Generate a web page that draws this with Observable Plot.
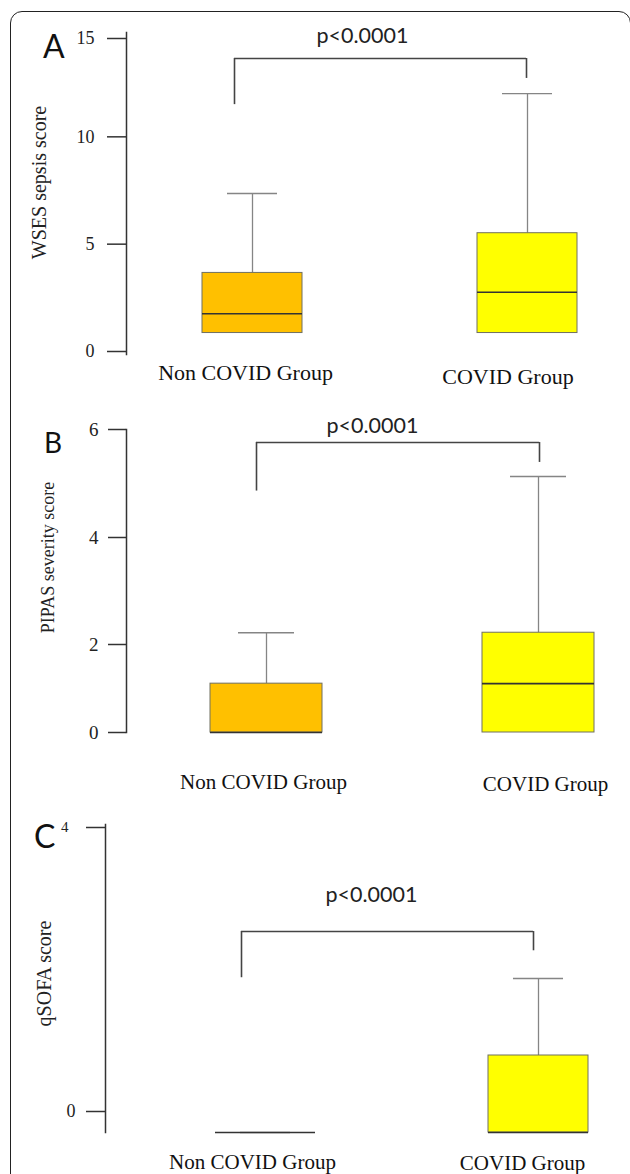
<!DOCTYPE html>
<html><head><meta charset="utf-8">
<script src="https://cdn.jsdelivr.net/npm/d3@7"></script>
<script src="https://cdn.jsdelivr.net/npm/@observablehq/plot@0.6"></script>
<style>
html,body{margin:0;padding:0;background:#fff;}
#wrap{position:relative;width:630px;height:1174px;overflow:hidden;background:#fff;}
.panel{position:absolute;left:0;}
.letter{position:absolute;font-family:Lato,"Open Sans",sans-serif;line-height:1;color:#111;}
#border{position:absolute;left:10px;top:11px;width:621px;height:1300px;border:1.5px solid #222;border-radius:12px;box-sizing:border-box;}
</style></head><body>
<div id="wrap">
  <div id="border"></div>
  <div class="panel" id="pA" style="top:0px"></div>
  <div class="panel" id="pB" style="top:395px"></div>
  <div class="panel" id="pC" style="top:805px"></div>
  <div class="letter" style="left:43px;top:29.6px;font-size:32px">A</div>
  <div class="letter" style="left:44px;top:428px;font-size:28px">B</div>
  <div class="letter" style="left:34px;top:819.6px;font-size:32px">C</div>
</div>
<script>
// ---------- data ----------
const groups = ["Non COVID Group", "COVID Group"];
const fills = ["#FFC000", "#FFFF00"];
const pLabel = "p<0.0001";

// Panel A: WSES sepsis score
const wsesTitle = "WSES sepsis score";
const wsesTicks = [0, 5, 10, 15];
const wsesQ1 = [1.0, 1.0];
const wsesMedian = [1.9, 2.9];
const wsesQ3 = [3.8, 5.65];
const wsesMax = [7.5, 12.15];
const wsesBracket = {level: 13.79, left: 11.64, right: 12.86, text: 14.49};

// Panel B: PIPAS severity score
const pipasTitle = "PIPAS severity score";
const pipasTicks = [0, 2, 4, 6];
const pipasQ1 = [0, 0];
const pipasMedian = [0, 1.11];
const pipasQ3 = [1.11, 2.22];
const pipasMax = [2.22, 5.13];
const pipasBracket = {level: 5.76, left: 4.86, right: 5.39, text: 5.944};

// Panel C: qSOFA score
const qsofaTitle = "qSOFA score";
const qsofaTicks = [0, 4];
const qsofaQ1 = [0, 0];
const qsofaMedian = [0, 0];
const qsofaQ3 = [0, 1];
const qsofaMax = [0, 2];
const qsofaBracket = {level: 2.61, left: 2.01, right: 2.36, text: 3.0};

// ---------- drawing ----------
const serif = "'Liberation Serif','Times New Roman',serif";
const sans = "Lato,'Open Sans',sans-serif";

function panel(cfg) {
  const rows = groups.map((g, i) => ({group: g, q1: cfg.q1[i], med: cfg.med[i], q3: cfg.q3[i], max: cfg.max[i], fill: fills[i]}));
  const [r0, r1] = cfg.xRange;
  const step = (r1 - r0) / (2 - cfg.pad);
  const bw = step * (1 - cfg.pad);
  const b = cfg.bracket;
  const marks = [
    Plot.frame({anchor: "left", stroke: "#333", strokeWidth: 1.5}),
    ...cfg.axes.map(a => Plot.axisY(a.ticks, {anchor: "left", tickSize: a.tickSize, tickPadding: a.tickPadding, fontSize: a.fontSize, dy: a.dy, stroke: "#333", strokeWidth: 1.5, fill: "#222", tickFormat: d => String(d)})),
    Plot.ruleX(rows, {x: "group", y1: "q3", y2: "max", stroke: "#858585", strokeWidth: 1.3}),
    Plot.tickY(rows, {x: "group", y: "max", stroke: "#858585", strokeWidth: 1.3, insetLeft: bw / 4, insetRight: bw / 4}),
    Plot.barY(rows, {x: "group", y1: "q1", y2: "q3", fill: d => d.fill, stroke: "#707060", strokeWidth: 1}),
    Plot.tickY(rows, {x: "group", y: "med", stroke: "#333", strokeWidth: 1.6}),
    // significance bracket
    Plot.ruleX([0], {x: () => groups[0], y1: () => b.left, y2: () => b.level, dx: cfg.dxL, stroke: "#444", strokeWidth: 1.6}),
    Plot.ruleX([0], {x: () => groups[1], y1: () => b.right, y2: () => b.level, dx: cfg.dxR, stroke: "#444", strokeWidth: 1.6}),
    Plot.ruleY([b.level], {x1: () => groups[0], x2: () => groups[1], insetLeft: bw / 2 + cfg.dxL, insetRight: bw / 2 - cfg.dxR, stroke: "#444", strokeWidth: 1.6}),
    Plot.text([pLabel], {text: d => d, y: () => b.text, lineAnchor: "bottom", dx: cfg.pdx, fontFamily: sans, fontSize: 21.5, fill: "#222"}),
    // y title
    Plot.text([cfg.title], {text: d => d, x: null, y: null, frameAnchor: "left", textAnchor: "middle", rotate: -90, lineAnchor: "middle", dx: cfg.tdx, dy: cfg.tdy, fontFamily: serif, fontSize: cfg.titleSize, fill: "#222"}),
    // category labels
    ...groups.map((g, i) => Plot.text([g], {x: d => d, text: d => d, frameAnchor: "bottom", lineAnchor: "bottom", dx: cfg.labDx[i], dy: cfg.labDy[i], fontFamily: serif, fontSize: cfg.labSize, fill: "#111"}))
  ];
  const chart = Plot.plot({
    width: 630,
    height: cfg.height,
    marginTop: cfg.marginTop,
    marginBottom: cfg.marginBottom,
    marginLeft: cfg.marginLeft,
    marginRight: 0,
    style: {fontFamily: serif, background: "transparent", overflow: "visible"},
    x: {type: "band", domain: groups, range: cfg.xRange, paddingInner: cfg.pad, paddingOuter: 0, axis: null},
    y: cfg.yRange ? {type: "linear", domain: cfg.yDomain, range: cfg.yRange, axis: null} : {type: "linear", domain: cfg.yDomain, axis: null},
    color: {type: "identity"},
    marks
  });
  document.getElementById(cfg.id).appendChild(chart);
}

panel({
  id: "pA", height: 395, marginTop: 32, marginBottom: 41, marginLeft: 126,
  xRange: [202, 577], pad: 0.6364, yDomain: [0, 15],
  axes: [{ticks: wsesTicks.slice(0, 3), tickSize: 19, tickPadding: 13, fontSize: 18, dy: -3},
         {ticks: wsesTicks.slice(3), tickSize: 19, tickPadding: 13, fontSize: 18, dy: 6}],
  q1: wsesQ1, med: wsesMedian, q3: wsesQ3, max: wsesMax, bracket: wsesBracket,
  dxL: -18, dxR: -1, pdx: -16,
  title: wsesTitle, titleSize: 20, tdx: -87, tdy: -11,
  labSize: 22, labDx: [-7, -19.5], labDy: [25, 29]
});

panel({
  id: "pB", height: 410, marginTop: 34, marginBottom: 73, marginLeft: 126,
  xRange: [209, 594], pad: 0.5897, yDomain: pipasTicks, yRange: [337, 249, 142, 34],
  axes: [{ticks: pipasTicks, tickSize: 18, tickPadding: 10, fontSize: 19, dy: 0}],
  q1: pipasQ1, med: pipasMedian, q3: pipasQ3, max: pipasMax, bracket: pipasBracket,
  dxL: -10, dxR: 1, pdx: -6,
  title: pipasTitle, titleSize: 18, tdx: -78, tdy: -23.5,
  labSize: 21, labDx: [-3, 7], labDy: [56, 58]
});

panel({
  id: "pC", height: 369, marginTop: 19, marginBottom: 42, marginLeft: 105,
  xRange: [215, 588], pad: 0.634, yDomain: [0, 4],
  axes: [{ticks: [qsofaTicks[0]], tickSize: 19, tickPadding: 11, fontSize: 18, dy: -21},
         {ticks: [qsofaTicks[1]], tickSize: 19, tickPadding: 18, fontSize: 15, dy: 3}],
  q1: qsofaQ1, med: qsofaMedian, q3: qsofaQ3, max: qsofaMax, bracket: qsofaBracket,
  dxL: -24, dxR: -5, pdx: 3.5,
  title: qsofaTitle, titleSize: 20, tdx: -61, tdy: -5,
  labSize: 21, labDx: [-13, -16], labDy: [36, 37]
});
</script>
</body></html>
